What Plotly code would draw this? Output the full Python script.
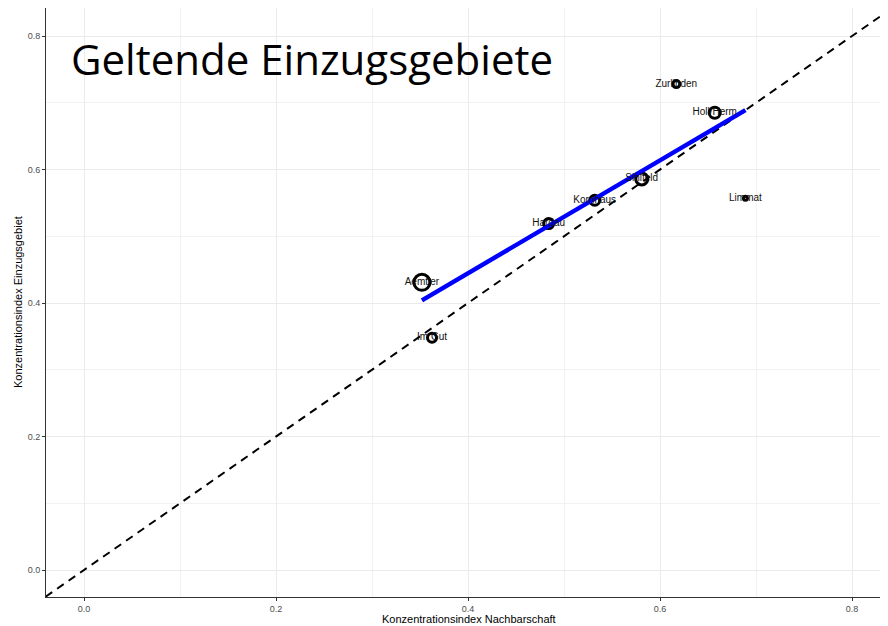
import plotly.graph_objects as go

# Data
namen = ["Zurlinden", "Holl/Herm", "Sihlfeld", "Kornhaus", "Hardau", "Limmat", "Aemtler", "Im Gut"]
nachbarschaft = [0.617, 0.657, 0.581, 0.532, 0.484, 0.689, 0.352, 0.3625]
einzugsgebiet = [0.728, 0.685, 0.586, 0.554, 0.519, 0.557, 0.431, 0.348]
groesse = [7, 11, 12, 10, 10, 4, 16, 9]

fit_x = [0.352, 0.689]
fit_y = [0.404, 0.689]

diag = [-0.04, 0.85]

x_ticks = [0.0, 0.2, 0.4, 0.6, 0.8]
y_ticks = [0.0, 0.2, 0.4, 0.6, 0.8]

# the page body has an 8px margin; figure is sized so the plot sits where the reference has it
OFF = 8
W, H = 880, 618
ML, MR, MT, MB = 38, 0, 0, 29
PW, PH = W - ML - MR, H - MT - MB

fig = go.Figure()

fig.add_trace(go.Scatter(
    x=diag, y=diag, mode="lines",
    line=dict(color="black", width=2, dash="8px,6px"),
    hoverinfo="skip", showlegend=False))

fig.add_trace(go.Scatter(
    x=nachbarschaft, y=einzugsgebiet, mode="markers",
    marker=dict(size=groesse, color="rgba(0,0,0,0)", opacity=1,
                line=dict(color="#000000", width=3)),
    showlegend=False))

fig.add_trace(go.Scatter(
    x=fit_x, y=fit_y, mode="lines",
    line=dict(color="#0000ff", width=4.5),
    showlegend=False))

fig.add_trace(go.Scatter(
    x=nachbarschaft, y=einzugsgebiet, mode="text", text=namen,
    textposition="middle center",
    textfont=dict(family="Liberation Sans, Arial", size=10, color="#111111"),
    showlegend=False))

axis_common = dict(
    automargin=False,
    showgrid=True, gridcolor="#ebebeb", gridwidth=1,
    minor=dict(showgrid=True, gridcolor="#f2f2f2", gridwidth=0.6, dtick=0.1),
    zeroline=False,
    showline=True, linecolor="#333333", linewidth=1, mirror=True,
    ticks="outside", ticklen=3, tickcolor="#333333", tickwidth=1,
    tickformat=".1f",
    tickfont=dict(family="Liberation Sans, Arial", size=9, color="#4d4d4d"),
)

fig.update_xaxes(**axis_common, range=[-0.0396, 0.8375], tickvals=x_ticks)
fig.update_yaxes(**axis_common, range=[-0.0404, 0.842], tickvals=y_ticks)

def px_x(p):
    return (p - OFF - ML) / PW

def px_y(p):
    return 1 - (p - OFF - MT) / PH

fig.add_annotation(
    text="Konzentrationsindex Nachbarschaft", xref="paper", yref="paper",
    x=px_x(469), y=px_y(619), xanchor="center", yanchor="middle", showarrow=False,
    font=dict(family="Liberation Sans, Arial", size=11, color="black"))

fig.add_annotation(
    text="Konzentrationsindex Einzugsgebiet", xref="paper", yref="paper",
    x=px_x(18), y=px_y(302), xanchor="center", yanchor="middle", showarrow=False,
    textangle=-90,
    font=dict(family="Liberation Sans, Arial", size=11, color="black"))

fig.add_annotation(
    text="Geltende Einzugsgebiete", xref="paper", yref="paper",
    x=px_x(69), y=px_y(58), xanchor="left", yanchor="middle",
    showarrow=False,
    font=dict(family="Open Sans", size=42, color="black"))

fig.update_layout(
    width=W, height=H,
    margin=dict(l=ML, r=MR, t=MT, b=MB),
    plot_bgcolor="white", paper_bgcolor="white",
)

fig.write_html("out.html")
